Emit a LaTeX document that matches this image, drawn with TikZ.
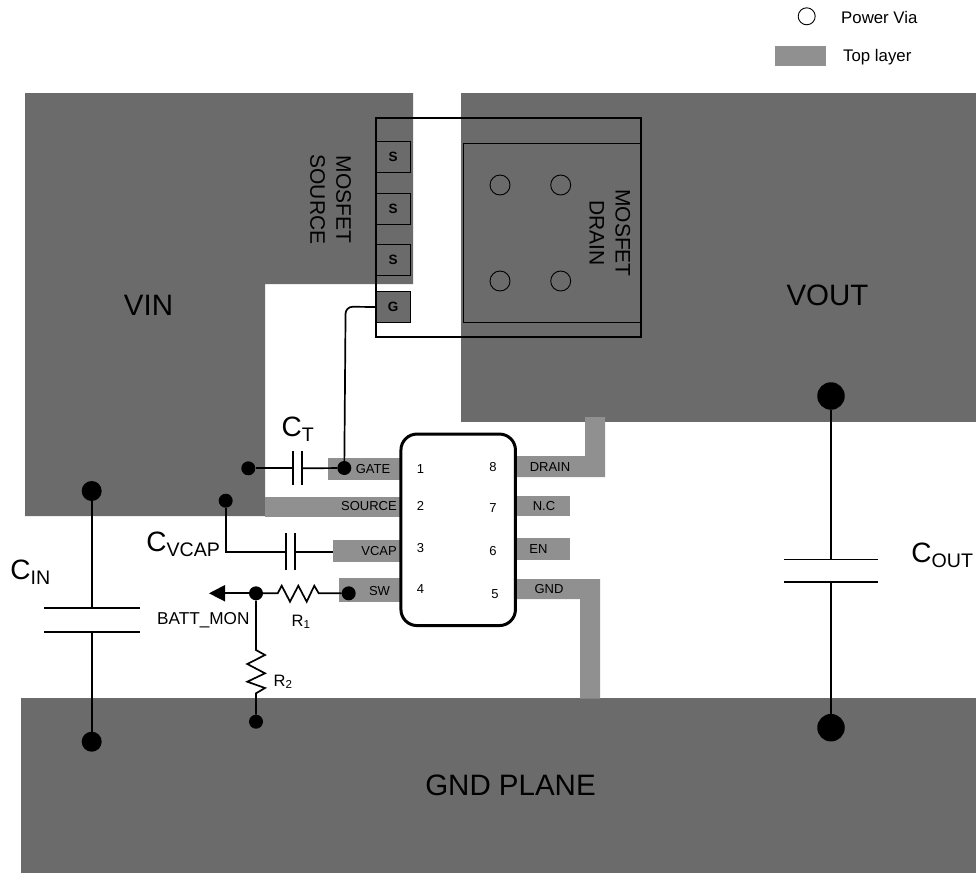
\documentclass[tikz,border=0pt]{standalone}
\usepackage{fontspec}
\setmainfont{Liberation Sans}
\definecolor{planegray}{HTML}{6B6B6B}
\definecolor{tracegray}{HTML}{909090}
\tikzset{
	wire/.style={draw=black,line width=1.7pt},
	dot/.style={circle,fill=black,inner sep=0pt,minimum size=14pt},
	bigdot/.style={circle,fill=black,inner sep=0pt,minimum size=20pt},
	via/.style={circle,draw=black,line width=0.9pt,inner sep=0pt,minimum size=20pt},
	pad/.style={rectangle,draw=black,line width=1.3pt,fill=planegray,inner sep=0pt,minimum width=34pt,minimum height=30.5pt,font=\fontsize{13.5}{15}\selectfont\bfseries},
	big/.style={font=\fontsize{29.5}{34}\selectfont,inner sep=0pt},
	mid/.style={font=\fontsize{21}{26}\selectfont,inner sep=0pt,align=center},
	small/.style={font=\fontsize{13}{15}\selectfont,inner sep=0pt},
	legend/.style={font=\fontsize{16.8}{18}\selectfont,inner sep=0pt,anchor=west},
	value/.style={font=\fontsize{16.5}{18}\selectfont,inner sep=0pt},
	capname/.style={font=\fontsize{28}{30}\selectfont,inner sep=0pt}
}
\begin{document}
\begin{tikzpicture}[x=1pt,y=-1pt]
		\useasboundingbox (0,0) rectangle (976,873);

		% planes
		\fill[planegray] (25,93) -- (413,93) -- (413,284) -- (265,284) -- (265,516) -- (25,516) -- cycle;
		\fill[planegray] (461,93) rectangle (976,422);
		\fill[planegray] (21,698) rectangle (976,873);

		% top layer
		\fill[tracegray] (328,458) rectangle (400,480);
		\fill[tracegray] (265,497) rectangle (400,517);
		\fill[tracegray] (333,540) rectangle (400,562);
		\fill[tracegray] (339,578) rectangle (400,602);
		\fill[tracegray] (516,456) -- (585,456) -- (585,417) -- (605,417) -- (605,477) -- (516,477) -- cycle;
		\fill[tracegray] (516,496) rectangle (570,516);
		\fill[tracegray] (516,538) rectangle (570,560);
		\fill[tracegray] (515,579) -- (600,579) -- (600,698.5) -- (580,698.5) -- (580,599) -- (515,599) -- cycle;

		% mosfet
		\node[draw=black,line width=2pt,inner sep=0pt,minimum width=265pt,minimum height=219pt] (mosfet) at (508.5,227.5) {};
		\node[draw=black,line width=1.3pt,inner sep=0pt,minimum width=177.5pt,minimum height=179pt] (drainpad) at (552.2,232.7) {};
		\node[pad] (s1) at (393.2,157) {S};
		\node[pad] (s2) at (393.2,209) {S};
		\node[pad] (s3) at (393.2,260) {S};
		\node[pad] (g) at (393.2,307) {G};
		\node[via] (via1) at (500,185) {};
		\node[via] (via2) at (560.7,185) {};
		\node[via] (via3) at (500,281) {};
		\node[via] (via4) at (560.7,281) {};
		\node[mid,rotate=-90] (source) at (330.5,199.5) {MOSFET\\SOURCE};
		\node[mid,rotate=-90] (drain) at (610,233) {MOSFET\\DRAIN};

		% controller
		\node[draw=black,line width=3pt,rounded corners=16pt,inner sep=0pt,minimum width=114.5pt,minimum height=191.5pt] (ic) at (458.2,529.8) {};
		\node[small] (pin1) at (420.5,469) {1};
		\node[small] (pin2) at (420.5,506) {2};
		\node[small] (pin3) at (420.5,548) {3};
		\node[small] (pin4) at (420.5,589) {4};
		\node[small] (pin5) at (495,594) {5};
		\node[small] (pin6) at (493,551) {6};
		\node[small] (pin7) at (493,508) {7};
		\node[small] (pin8) at (493,467) {8};
		\node[small] (gate) at (373,469) {GATE};
		\node[small,anchor=east] (src) at (397,506) {SOURCE};
		\node[small,anchor=east] (vcap) at (397,551.5) {VCAP};
		\node[small] (sw) at (379.5,591.5) {SW};
		\node[small] (drn) at (550,467) {DRAIN};
		\node[small] (nc) at (544,506.5) {N.C};
		\node[small] (en) at (538.5,549) {EN};
		\node[small] (gnd) at (549,589.5) {GND};

		% plane names
		\node[big] (vin) at (148.5,305) {VIN};
		\node[big] (vout) at (827.5,295) {VOUT};
		\node[big] (gndplane) at (510.5,785) {GND PLANE};

		% gate connection
		\node[dot] (gatedot) at (344.3,468) {};
		\node[dot] (ctdot) at (248.3,468.3) {};
		\coordinate (ctleft) at (292.7,468.3);
		\coordinate (ctright) at (301.7,468.3);
		\draw[wire] (ctdot) -- (ctleft);
		\draw[wire] (ctright) -- (gatedot);
		\draw[wire] (292.7,451) -- (292.7,485);
		\draw[wire] (301.7,451) -- (301.7,485);
		\draw[wire,rounded corners=7pt] (g.west) -- (345.6,306.7) -- (gatedot);
		\node[capname] (ct) at (298,429) {C\textsubscript{T}};

		% vcap
		\node[dot] (vcapdot) at (225.7,500.7) {};
		\coordinate (vcapleft) at (285.7,551.7);
		\coordinate (vcapright) at (294.7,551.7);
		\coordinate (vcaptrace) at (333,551.7);
		\draw[wire] (vcapdot) -- (225.7,551.7) -- (vcapleft);
		\draw[wire] (vcapright) -- (vcaptrace);
		\draw[wire] (285.7,533) -- (285.7,570);
		\draw[wire] (294.7,533) -- (294.7,570);
		\node[capname] (cvcap) at (183.5,544) {C\textsubscript{VCAP}};

		% battery monitor
		\node[dot] (mondot) at (256,593.3) {};
		\node[dot] (swdot) at (348.7,593.3) {};
		\node[dot] (r2dot) at (256,721.7) {};
		\coordinate (monend) at (225,593.3);
		\draw[wire] (mondot) -- (monend);
		\fill[black] (209,593.3) -- (225,585) -- (225,601.5) -- cycle;
		\draw[wire] (mondot) -- (277.7,593.3) -- (281.7,585.7) -- (290,601.7) -- (298.3,585.7) -- (306.7,601.7) -- (314.3,585.7) -- (318.7,593.3) -- (swdot);
		\draw[wire] (mondot) -- (256,650) -- (265,655) -- (247.3,664) -- (265,673.3) -- (247.3,681.7) -- (265,688) -- (256,693.3) -- (r2dot);
		\node[value,font=\fontsize{17.2}{18}\selectfont] (battmon) at (203.3,620) {BATT\_MON};
		\node[value] (r1) at (301,622) {R\textsubscript{1}};
		\node[value] (r2) at (283,682) {R\textsubscript{2}};

		% input cap
		\node[bigdot] (cintop) at (91.7,491) {};
		\node[bigdot] (cinbot) at (91.7,741.7) {};
		\coordinate (cinupper) at (91.7,607.7);
		\coordinate (cinlower) at (91.7,631.7);
		\draw[wire] (cintop) -- (cinupper);
		\draw[wire] (cinlower) -- (cinbot);
		\draw[wire] (44,607.7) -- (140,607.7);
		\draw[wire] (44,631.7) -- (140,631.7);
		\node[capname] (cin) at (30.5,572) {C\textsubscript{IN}};

		% output cap
		\node[bigdot,minimum size=27.5pt] (couttop) at (831,396) {};
		\node[bigdot,minimum size=27.5pt] (coutbot) at (831,727.7) {};
		\coordinate (coutupper) at (831,559.5);
		\coordinate (coutlower) at (831,582.3);
		\draw[wire] (couttop) -- (coutupper);
		\draw[wire] (coutlower) -- (coutbot);
		\draw[wire] (784,559.5) -- (878,559.5);
		\draw[wire] (784,582.3) -- (878,582.3);
		\node[capname] (cout) at (942.5,555) {C\textsubscript{OUT}};

		% legend
		\node[via,minimum size=17pt] (legvia) at (806.7,16.3) {};
		\node[legend] (legviatext) at (841,17) {Power Via};
		\fill[tracegray] (775,46.3) rectangle (825.7,66);
		\node[legend] (legtoptext) at (843,57) {Top layer};
	\end{tikzpicture}
\end{document}
